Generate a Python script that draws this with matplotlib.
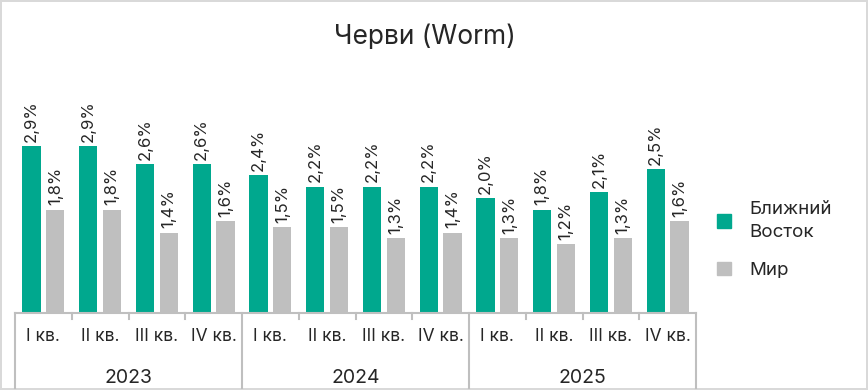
import matplotlib.pyplot as plt
import matplotlib.transforms as mtransforms
from matplotlib.patches import Patch
import numpy as np

plt.rcParams['font.family'] = ['Inter', 'DejaVu Sans']

# Data
years = ["2023", "2024", "2025"]
quarters = ["I кв.", "II кв.", "III кв.", "IV кв."]
middle_east = [2.9, 2.9, 2.6, 2.6, 2.4, 2.2, 2.2, 2.2, 2.0, 1.8, 2.1, 2.5]
world = [1.8, 1.8, 1.4, 1.6, 1.5, 1.5, 1.3, 1.4, 1.3, 1.2, 1.3, 1.6]

green = "#00A88E"
grey = "#BFBFBF"
text_color = "#262626"
line_color = "#BFBFBF"

fig = plt.figure(figsize=(8.68, 3.9), dpi=100)
fig.patch.set_edgecolor("#D9D9D9")
fig.patch.set_linewidth(1.5)

ax = fig.add_axes([15 / 868, 77 / 390, 681 / 868, 201 / 390])

n = len(middle_east)
x = np.arange(n)
width = 0.32
offset = 0.21

b1 = ax.bar(x - offset, middle_east, width, color=green, label="Ближний\nВосток")
b2 = ax.bar(x + offset, world, width, color=grey, label="Мир")


def fmt(v):
    return f"{v:.1f}%".replace(".", ",")


for bars, vals in [(b1, middle_east), (b2, world)]:
    for rect, v in zip(bars, vals):
        ax.annotate(fmt(v), (rect.get_x() + rect.get_width() / 2, rect.get_height()),
                    xytext=(0, 3), textcoords="offset points", rotation=90,
                    ha="center", va="bottom", fontsize=12, color=text_color,
                    annotation_clip=False)

ax.set_xlim(-0.5, n - 0.5)
ax.set_ylim(0, 3.5)
ax.set_yticks([])
ax.set_xticks([])
for s in ["top", "right", "left"]:
    ax.spines[s].set_visible(False)
ax.spines["bottom"].set_color(line_color)
ax.spines["bottom"].set_linewidth(1.5)

trans = mtransforms.blended_transform_factory(ax.transData, ax.transAxes)

# quarter tick marks and year separators
for k in range(n + 1):
    xs = k - 0.5
    depth = -0.373 if k % 4 == 0 else -0.03
    ax.plot([xs, xs], [0, depth], color=line_color, lw=1.5, transform=trans, clip_on=False)

# quarter labels
for i in range(n):
    ax.text(i, -0.118, quarters[i % 4], transform=trans, ha="center", va="center",
            fontsize=12.5, color=text_color)

# year labels
for j, yr in enumerate(years):
    ax.text(j * 4 + 1.5, -0.325, yr, transform=trans, ha="center", va="center",
            fontsize=14, color=text_color)

fig.text(425 / 868, 1 - 37 / 390, "Черви (Worm)", ha="center", va="center",
         fontsize=19, color=text_color)

leg = fig.legend(handles=[Patch(color=green, label="Ближний\nВосток"), Patch(color=grey, label="Мир")],
                 loc="center left", bbox_to_anchor=(700 / 868, 1 - 240 / 390), frameon=False,
                 fontsize=13.5, handlelength=0.75, handleheight=0.75, labelspacing=1.1,
                 labelcolor=text_color, handletextpad=1.0)
for t in leg.get_texts():
    t.set_linespacing(1.45)

fig.savefig("out.png", dpi=100)
